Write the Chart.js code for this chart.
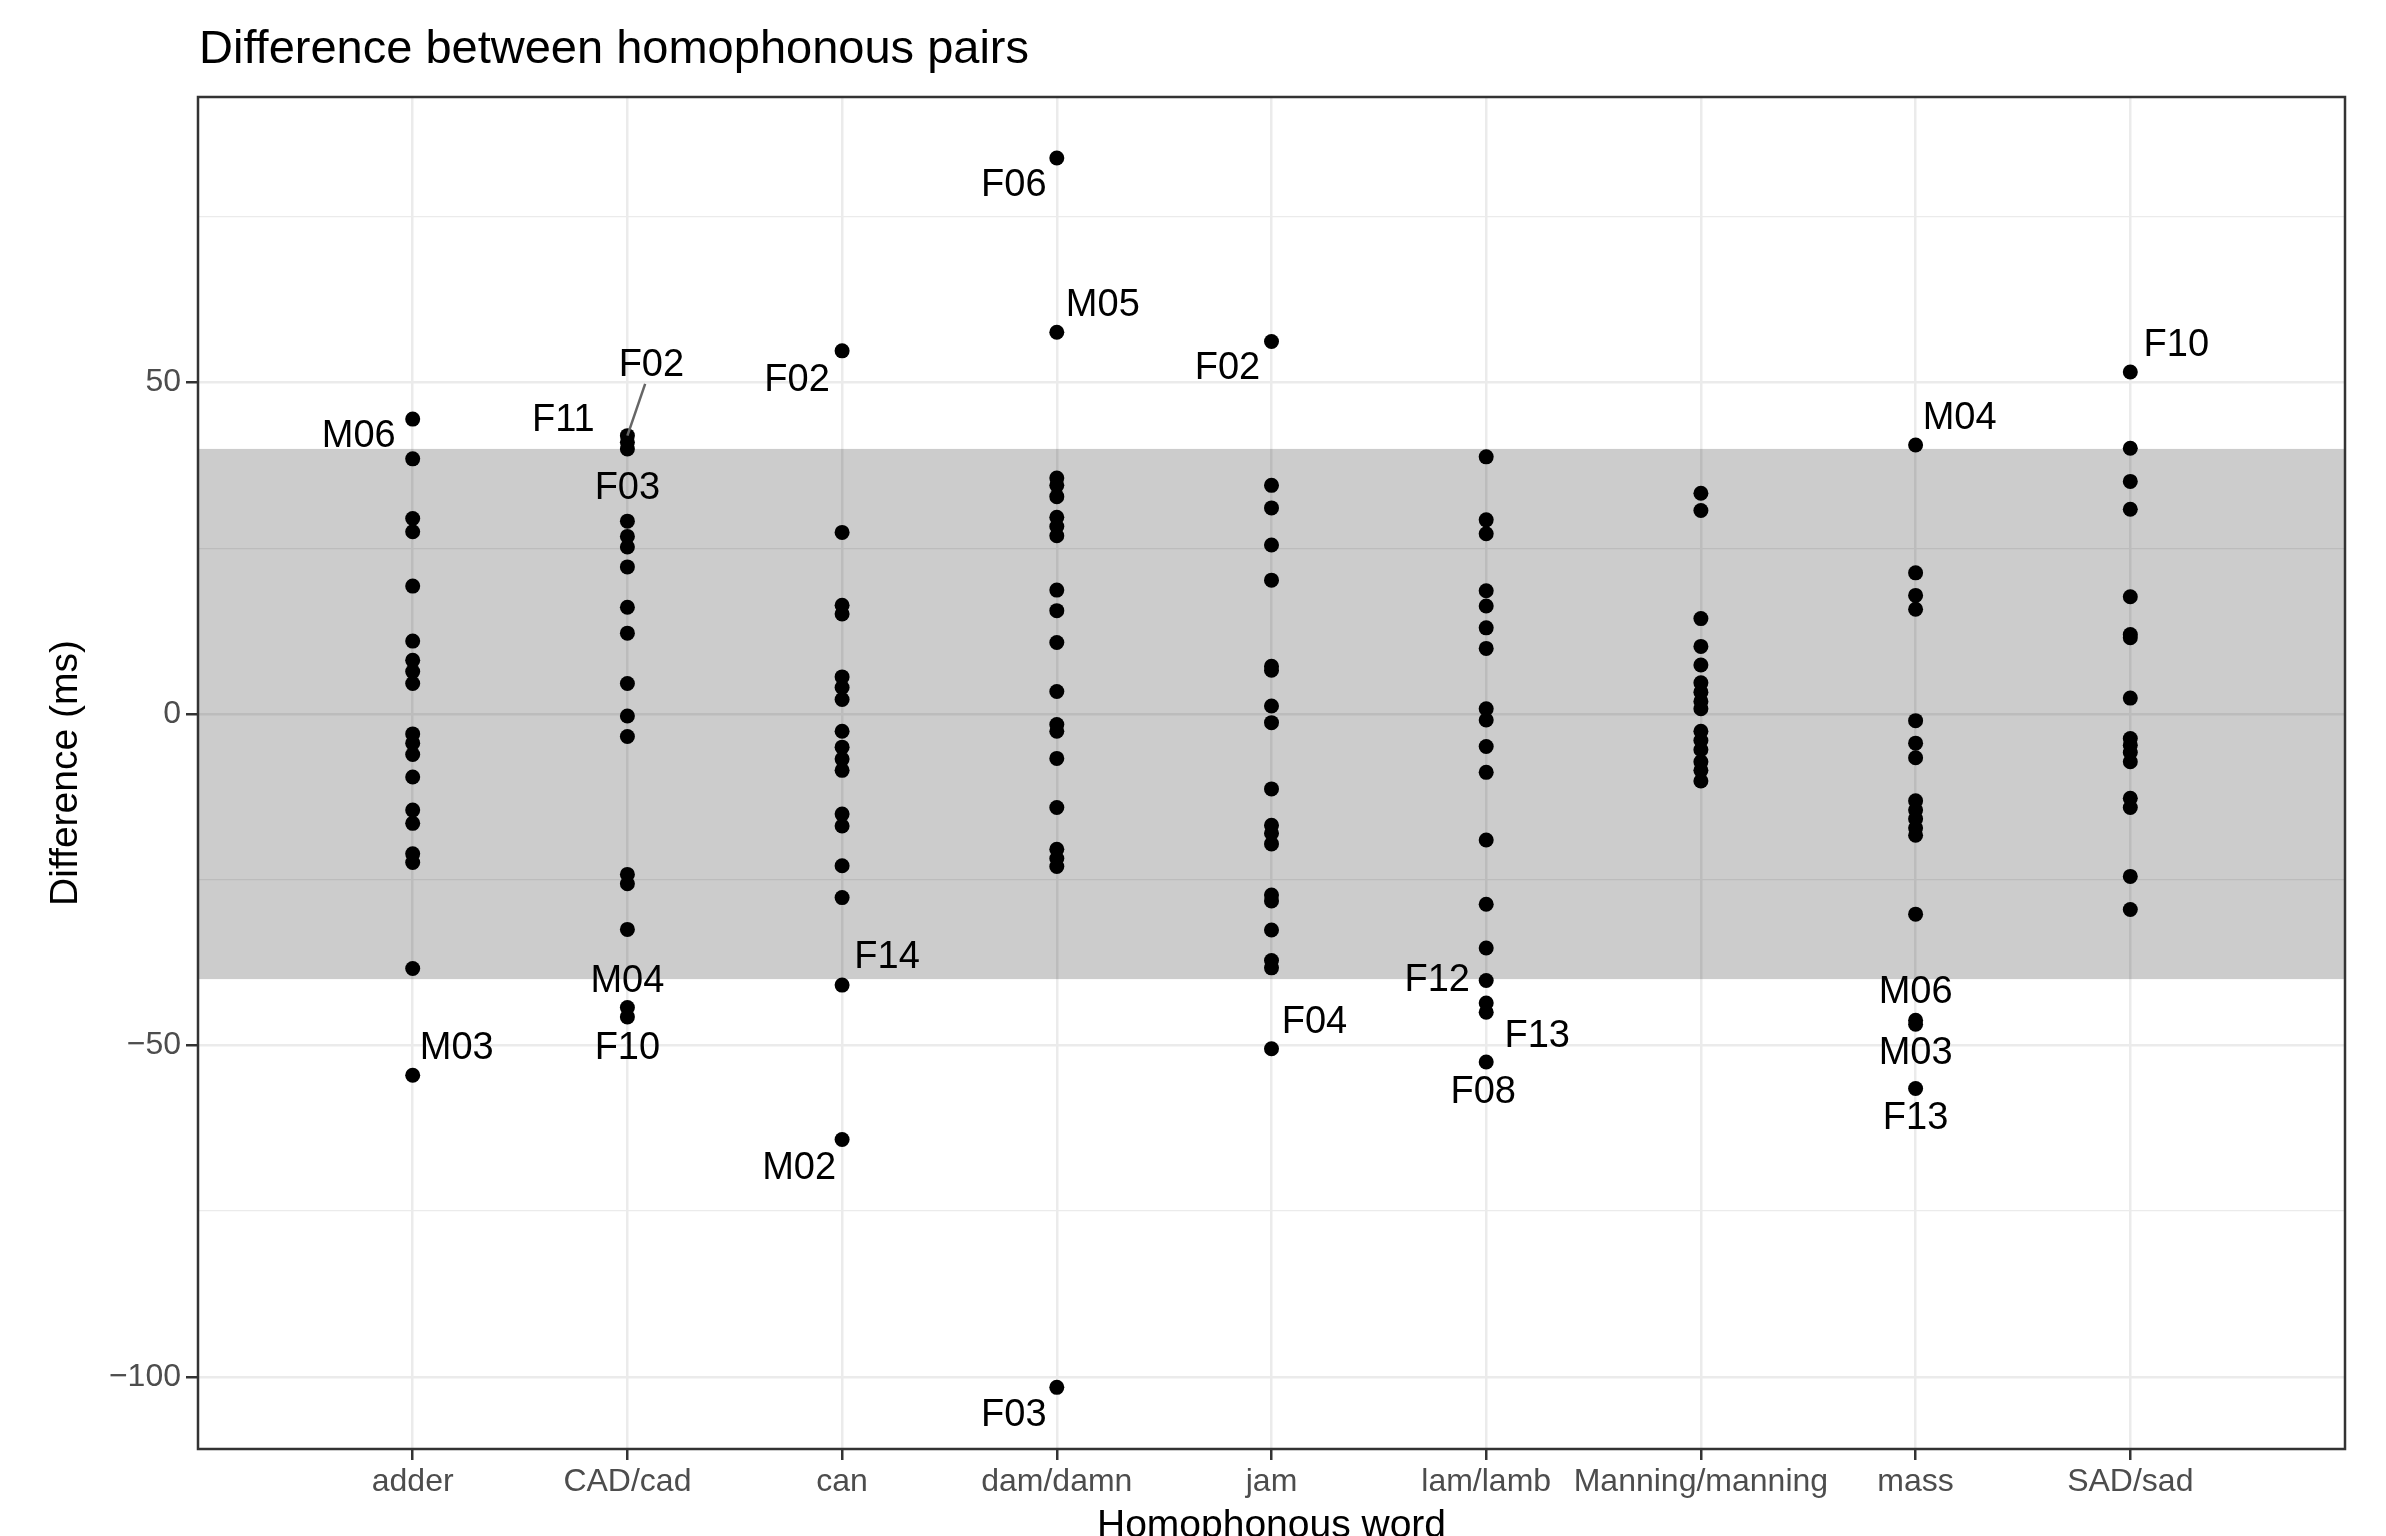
<!DOCTYPE html>
<html>
<head>
<meta charset="utf-8">
<script src="https://cdn.jsdelivr.net/npm/chart.js@4.4.1/dist/chart.umd.min.js"></script>
<style>
  html, body { margin: 0; padding: 0; background: #ffffff; }
  #wrap { width: 2386px; height: 1536px; }
</style>
</head>
<body>
<div id="wrap"><canvas id="chart" width="2386" height="1536"></canvas></div>
<script>
// ── Datos ────────────────────────────────────────────────────────────────
const categories = ["adder", "CAD/cad", "can", "dam/damn", "jam", "lam/lamb", "Manning/manning", "mass", "SAD/sad"];

const adder    = [44.5, 38.5, 29.5, 27.5, 19.3, 11.0, 8.1, 6.4, 4.6, -3.0, -4.4, -6.1, -9.5, -14.5, -16.5, -21.1, -22.4, -38.4, -54.5];
const cadCad   = [42.0, 41.0, 40.0, 29.1, 26.8, 25.2, 22.2, 16.1, 12.2, 4.6, -0.3, -3.4, -24.2, -25.6, -32.5, -44.3, -45.7];
const can      = [54.8, 27.4, 16.4, 15.1, 5.6, 4.0, 2.2, -2.6, -5.0, -6.8, -8.5, -15.1, -16.9, -22.9, -27.7, -40.9, -64.2];
const damDamn  = [83.9, 57.6, 35.6, 34.5, 32.8, 29.7, 28.3, 26.9, 18.7, 15.6, 10.8, 3.4, -1.6, -2.6, -6.7, -14.1, -20.4, -21.8, -23.0, -101.6];
const jam      = [56.2, 34.5, 31.1, 25.5, 20.2, 7.2, 6.6, 1.2, -1.3, -11.3, -16.8, -18.0, -19.6, -27.3, -28.2, -32.6, -37.2, -38.3, -50.5];
const lamLamb  = [38.8, 29.3, 27.2, 18.6, 16.3, 13.0, 9.9, 0.8, -0.9, -4.9, -8.8, -19.0, -28.7, -35.3, -40.2, -43.6, -45.0, -52.5];
const manning  = [33.3, 30.7, 14.4, 10.2, 7.4, 4.7, 3.3, 1.9, 0.8, -2.6, -4.0, -5.4, -7.2, -8.5, -10.1];
const mass     = [40.6, 21.3, 17.9, 15.8, -1.0, -4.4, -6.6, -13.1, -14.5, -15.8, -17.2, -18.3, -30.2, -46.2, -46.8, -56.5];
const sadSad   = [51.6, 40.1, 35.1, 30.9, 17.7, 12.0, 11.5, 2.4, -3.7, -4.7, -5.8, -7.2, -12.7, -14.1, -24.5, -29.5];

const seriesByCat = [adder, cadCad, can, damDamn, jam, lamLamb, manning, mass, sadSad];

// etiquetas de hablantes (categoria, valor, nombre)
const labelCat   = [0, 0, 1, 1, 1, 1, 1, 2, 2, 2, 3, 3, 3, 4, 4, 5, 5, 5, 7, 7, 7, 7, 8];
const labelValue = [44.5, -54.5, 42.0, 41.0, 40.0, -44.3, -45.7, 54.8, -40.9, -64.2, 83.9, 57.6, -101.6, 56.2, -50.5, -40.2, -45.0, -52.5, 40.6, -46.2, -46.8, -56.5, 51.6];
const labelName  = ["M06", "M03", "F02", "F11", "F03", "M04", "F10", "F02", "F14", "M02", "F06", "M05", "F03", "F02", "F04", "F12", "F13", "F08", "M04", "M06", "M03", "F13", "F10"];

// desplazamiento de cada etiqueta en pixeles (estilo, no datos)
const labelOffset = [
  [-54, 17], [44, -27], [24, -70], [-64, -22], [0, 40], [0, -26], [0, 32],
  [-45, 30], [45, -28], [-43, 29], [-43, 28], [46, -27], [-43, 28],
  [-44, 27], [43, -26], [-49, 0], [51, 24], [-3, 31],
  [44, -26], [0, -28], [0, 29], [0, 30], [46, -27],
];
const labelWithLine = [2];

const bandLow = -40;
const bandHigh = 40;

// ── Plugin decorado ─────────────────────────────────────────────────────
const FONT = "'Liberation Sans', Arial, Helvetica, sans-serif";

const decor = {
  id: "decor",
  beforeDatasetsDraw(chart) {
    const { ctx, chartArea: a, scales: { y } } = chart;
    const top = y.getPixelForValue(bandHigh);
    const bot = y.getPixelForValue(bandLow);
    ctx.save();
    ctx.fillStyle = "rgba(0,0,0,0.2)";
    ctx.fillRect(a.left, top, a.right - a.left, bot - top);
    ctx.restore();
  },
  afterDatasetsDraw(chart) {
    const { ctx, chartArea: a, scales: { x, y } } = chart;
    ctx.save();

    // etiquetas
    ctx.font = `38px ${FONT}`;
    ctx.fillStyle = "#000000";
    ctx.textAlign = "center";
    ctx.textBaseline = "middle";
    labelName.forEach((name, i) => {
      const px = x.getPixelForValue(labelCat[i] + 1);
      const py = y.getPixelForValue(labelValue[i]);
      const [dx, dy] = labelOffset[i];
      if (labelWithLine.includes(i)) {
        ctx.strokeStyle = "#666666";
        ctx.lineWidth = 2.5;
        ctx.beginPath();
        ctx.moveTo(px, py);
        ctx.lineTo(px + dx * 0.74, py + dy * 0.74);
        ctx.stroke();
      }
      ctx.fillText(name, px + dx, py + dy);
    });

    // borde del panel
    ctx.strokeStyle = "#333333";
    ctx.lineWidth = 2.5;
    ctx.strokeRect(a.left, a.top, a.right - a.left, a.bottom - a.top);

    // titulos
    ctx.fillStyle = "#000000";
    ctx.textAlign = "left";
    ctx.textBaseline = "alphabetic";
    ctx.font = `47px ${FONT}`;
    ctx.fillText("Difference between homophonous pairs", 199, 63);

    ctx.font = `39px ${FONT}`;
    ctx.textAlign = "center";
    ctx.fillText("Homophonous word", (a.left + a.right) / 2, 1537);

    ctx.translate(66, (a.top + a.bottom) / 2);
    ctx.rotate(-Math.PI / 2);
    ctx.textBaseline = "middle";
    ctx.fillText("Difference (ms)", 0, 0);
    ctx.restore();
  },
};

// ── Grafica ─────────────────────────────────────────────────────────────
const puntos = [];
seriesByCat.forEach((vals, i) => vals.forEach((v) => puntos.push({ x: i + 1, y: v })));

const yTicks = [-100, -75, -50, -25, 0, 25, 50, 75];
const isMajor = (v) => v % 50 === 0;

new Chart(document.getElementById("chart"), {
  type: "scatter",
  data: {
    datasets: [{
      data: puntos,
      backgroundColor: "#000000",
      borderWidth: 0,
      pointRadius: 7.5,
      pointHoverRadius: 7.5,
    }],
  },
  options: {
    responsive: false,
    animation: false,
    events: [],
    layout: { padding: { left: 0, top: 97, right: 41, bottom: 0 } },
    plugins: { legend: { display: false }, tooltip: { enabled: false } },
    scales: {
      x: {
        type: "linear",
        min: 0,
        max: 10,
        afterBuildTicks: (s) => { s.ticks = categories.map((c, i) => ({ value: i + 1 })); },
        afterFit: (s) => { s.height = 87; },
        border: { display: false },
        grid: { color: "#ebebeb", lineWidth: 2.5, tickLength: 11, tickColor: "#333333", tickWidth: 2.5 },
        ticks: {
          callback: (v) => categories[v - 1],
          autoSkip: false,
          maxRotation: 0,
          padding: 3,
          color: "#4d4d4d",
          font: { family: FONT, size: 32 },
        },
      },
      y: {
        type: "linear",
        min: -110.9,
        max: 93.1,
        afterBuildTicks: (s) => { s.ticks = yTicks.map((v) => ({ value: v })); },
        afterFit: (s) => { s.width = 198; },
        border: { display: false },
        grid: {
          color: "#ebebeb",
          lineWidth: (c) => (c.tick && isMajor(c.tick.value) ? 2.5 : 1.3),
          tickLength: 12,
          tickColor: (c) => (c.tick && isMajor(c.tick.value) ? "#333333" : "rgba(0,0,0,0)"),
          tickWidth: 2.5,
        },
        ticks: {
          callback: (v) => (isMajor(v) ? (v < 0 ? "\u2212" + Math.abs(v) : String(v)) : ""),
          autoSkip: false,
          padding: 5,
          color: "#4d4d4d",
          font: { family: FONT, size: 32 },
        },
      },
    },
  },
  plugins: [decor],
});
</script>
</body>
</html>
